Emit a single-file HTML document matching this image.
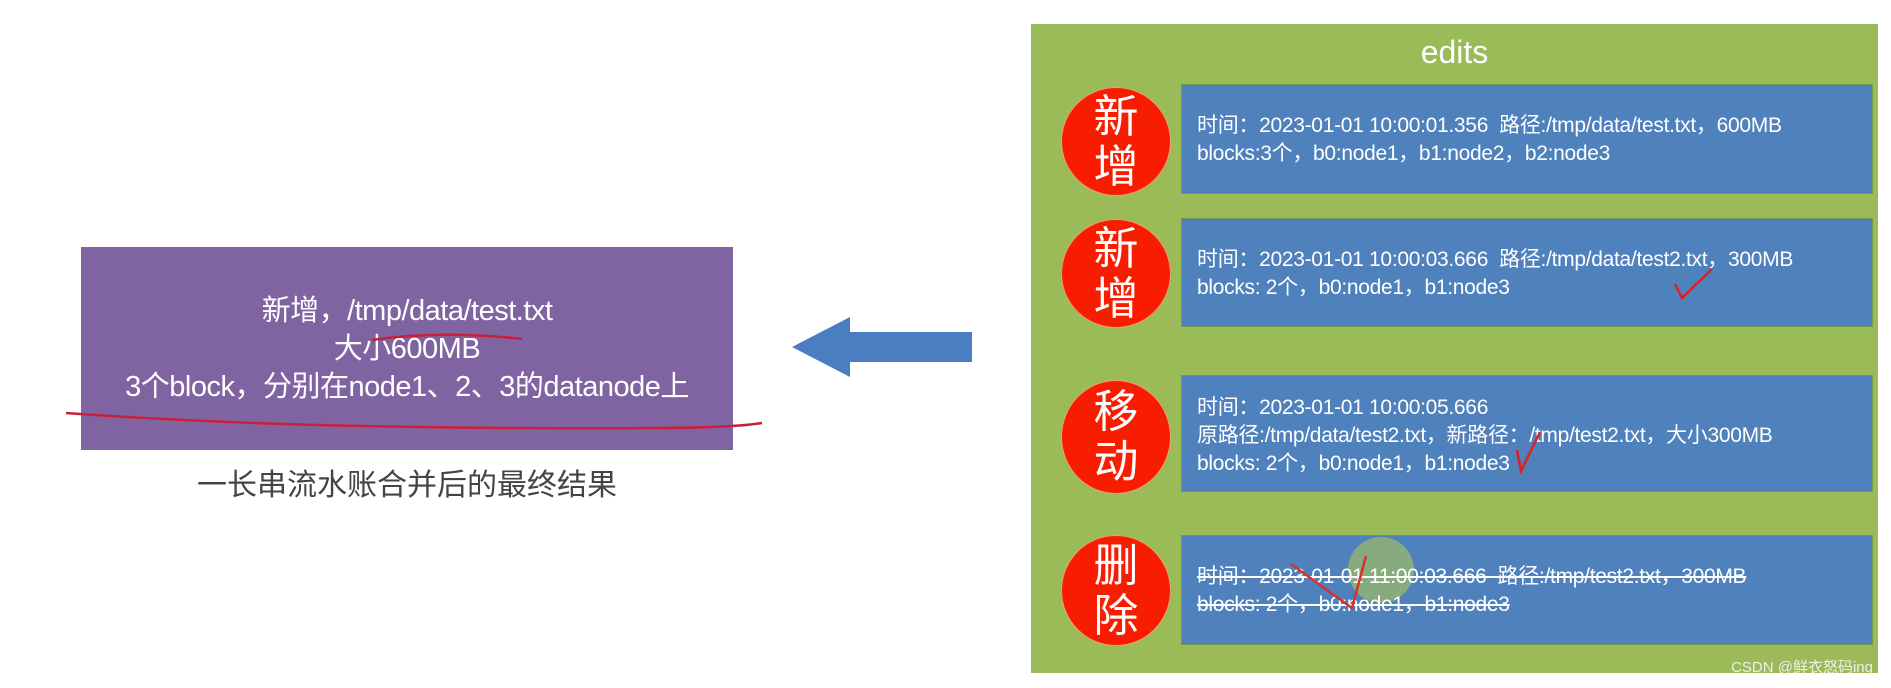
<!DOCTYPE html>
<html><head><meta charset="utf-8"><style>
body{margin:0;width:1891px;height:688px;background:#fff;position:relative;overflow:hidden;font-family:"Liberation Sans","Noto Sans CJK SC",sans-serif}
.a{position:absolute}
.green{left:1031px;top:24px;width:847px;height:649px;background:#9bbb59}
.box{position:absolute;left:1181px;width:692px;background:#4f81bd;border:1px solid #6f9a4f;box-sizing:border-box}
.c{position:absolute;left:1061px;width:110px;background:#f81c00;border-radius:50%;color:#fff;font-size:45px;line-height:50px;text-align:center;display:flex;flex-direction:column;justify-content:center;border:1px solid #e8a070;box-sizing:border-box}
.t{position:absolute;left:1197px;color:#fff;font-size:21px;white-space:nowrap;line-height:28px;letter-spacing:-0.3px}
</style></head><body>
<div class="a green"></div>
<div class="a" style="left:1031px;width:847px;top:34px;text-align:center;color:#fff;font-size:32px">edits</div>

<div class="box" style="top:84px;height:110px"></div>
<div class="box" style="top:218px;height:109px"></div>
<div class="box" style="top:375px;height:117px"></div>
<div class="box" style="top:535px;height:110px"></div>

<div class="c" style="top:87px;height:109px">新<br>增</div>
<div class="c" style="top:219px;height:109px">新<br>增</div>
<div class="c" style="top:380px;height:114px">移<br>动</div>
<div class="c" style="top:535px;height:111px">删<br>除</div>

<div class="t" style="top:112px">时间：2023-01-01 10:00:01.356&nbsp;&nbsp;路径:/tmp/data/test.txt，600MB<br>blocks:3个，b0:node1，b1:node2，b2:node3</div>
<div class="t" style="top:246px">时间：2023-01-01 10:00:03.666&nbsp;&nbsp;路径:/tmp/data/test2.txt，300MB<br>blocks: 2个，b0:node1，b1:node3</div>
<div class="t" style="top:394px">时间：2023-01-01 10:00:05.666<br>原路径:/tmp/data/test2.txt，新路径：/tmp/test2.txt，大小300MB<br>blocks: 2个，b0:node1，b1:node3</div>
<div class="a" style="left:1348px;top:537px;width:66px;height:66px;border-radius:50%;background:rgba(160,190,100,0.7)"></div>
<div class="t" style="top:563px;text-decoration:line-through">时间：2023-01-01 11:00:03.666&nbsp;&nbsp;路径:/tmp/test2.txt，300MB<br>blocks: 2个，b0:node1，b1:node3</div>

<div class="a" style="left:81px;top:247px;width:652px;height:203px;background:#8064a2"></div>
<div class="a" style="left:81px;top:292px;width:652px;text-align:center;color:#fff;font-size:29px;line-height:38px;letter-spacing:-0.5px">新增，/tmp/data/test.txt<br>大小600MB<br>3个block，分别在node1、2、3的datanode上</div>
<div class="a" style="left:81px;top:460px;width:652px;text-align:center;color:#444;font-size:30px">一长串流水账合并后的最终结果</div>
<div class="a" style="right:18px;top:656px;color:#eee;font-size:15px">CSDN @鲜衣怒码ing</div>

<svg class="a" style="left:0;top:0" width="1891" height="688">
<polygon points="792,347 850,317 850,332 972,332 972,362 850,362 850,377" fill="#4a7ec0"/>
<path d="M372,340 Q440,330 522,339" stroke="#c8203a" stroke-width="2.5" fill="none"/>
<path d="M66,413 Q300,430 650,428 Q730,428 762,423" stroke="#c8203a" stroke-width="2.5" fill="none"/>
<path d="M1675,284 L1682,298 L1712,269" stroke="#e02020" stroke-width="2.5" fill="none"/>
<path d="M1517,450 L1521,471 L1540,432" stroke="#e02020" stroke-width="2.5" fill="none"/>
<path d="M1291,564 L1352,608 L1366,556" stroke="#d83030" stroke-width="2.5" fill="none"/>
</svg>
</body></html>
